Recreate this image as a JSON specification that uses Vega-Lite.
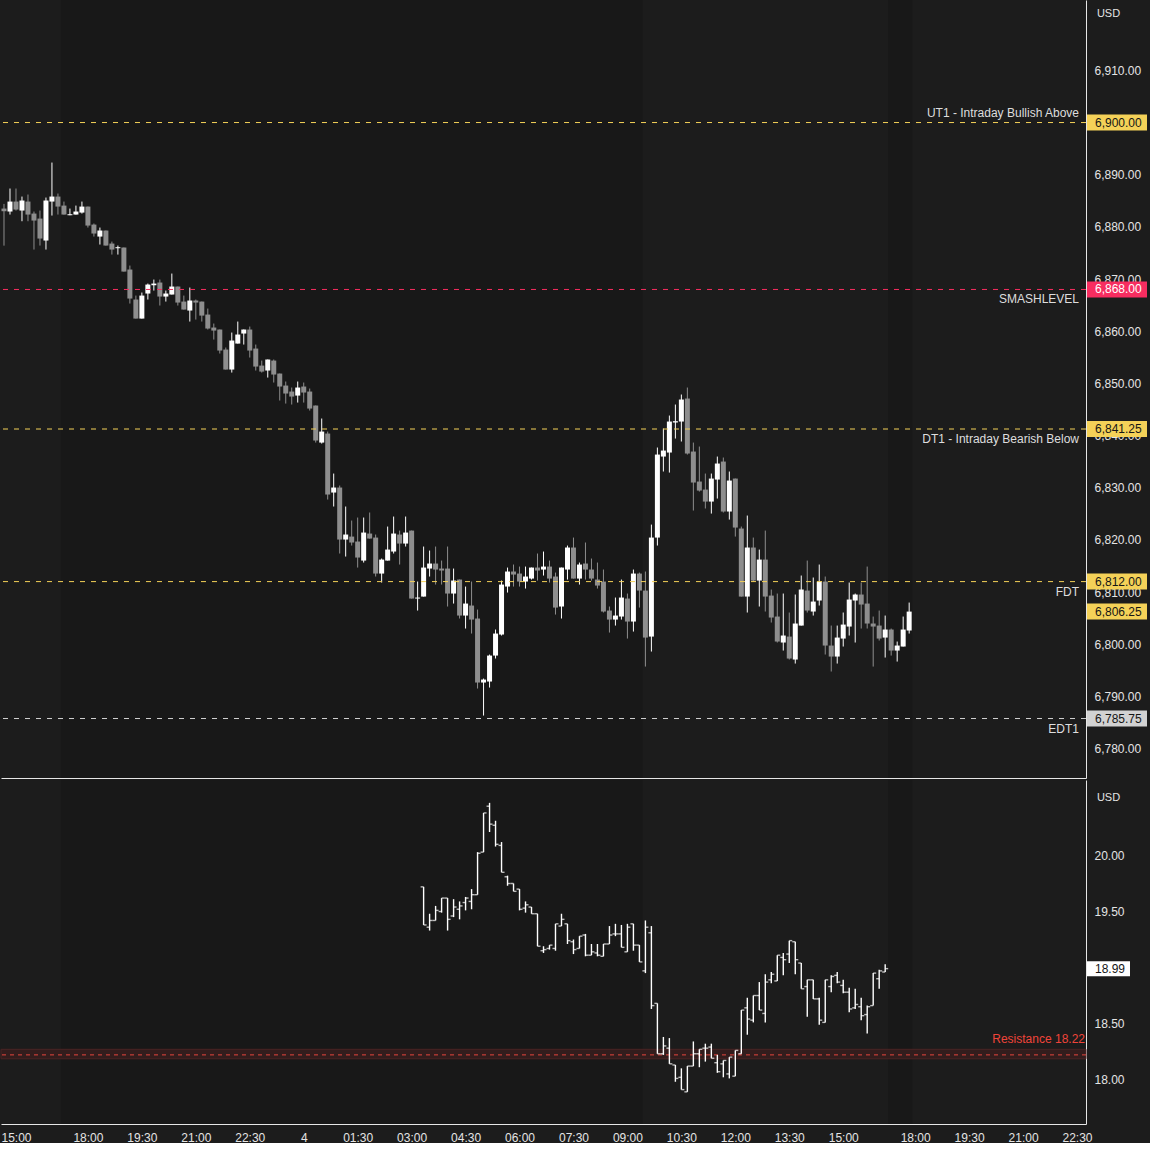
{
  "$schema": "https://vega.github.io/schema/vega-lite/v6.json",
  "background": "#1c1c1c",
  "padding": 0,
  "spacing": 2,
  "config": {
    "view": {"stroke": null},
    "font": "Liberation Sans",
    "axis": {"labelFont": "Liberation Sans", "labelFontSize": 12, "labelColor": "#e4e4e4", "ticks": false, "grid": false, "domainColor": "#e6e6e6", "domainWidth": 1, "titleFont": "Liberation Sans"},
    "text": {"font": "Liberation Sans", "fontSize": 12}
  },
  "datasets": {
    "sess": [
      {"s": "2025-11-03 16:20", "e": "2025-11-04 09:30"},
      {"s": "2025-11-04 16:20", "e": "2025-11-04 18:00"}
    ],
    "levels": [
      {"level": "UT1", "p": 6900, "label": "UT1 - Intraday Bullish Above"},
      {"level": "SMASHLEVEL", "p": 6868, "label": "SMASHLEVEL"},
      {"level": "DT1", "p": 6841.25, "label": "DT1 - Intraday Bearish Below"},
      {"level": "FDT", "p": 6812, "label": "FDT"},
      {"level": "EDT1", "p": 6785.75, "label": "EDT1"}
    ],
    "tags": [
      {"level": "UT1", "p": 6900},
      {"level": "SMASHLEVEL", "p": 6868},
      {"level": "DT1", "p": 6841.25},
      {"level": "FDT", "p": 6812},
      {"level": "Last", "p": 6806.25},
      {"level": "EDT1", "p": 6785.75}
    ],
    "res": [{"v": 18.22, "lo": 18.185, "hi": 18.27, "label": "Resistance 18.22"}],
    "vixlast": [{"v": 18.99}],
    "es": [
      {"t":"2025-11-03 14:40","o":6883.51,"h":6884.4,"l":6876.4,"c":6883.0},
      {"t":"2025-11-03 14:50","o":6882.94,"h":6887.35,"l":6882.36,"c":6884.85},
      {"t":"2025-11-03 15:00","o":6884.85,"h":6887.35,"l":6883.13,"c":6883.32},
      {"t":"2025-11-03 15:10","o":6883.13,"h":6885.81,"l":6881.08,"c":6885.05},
      {"t":"2025-11-03 15:20","o":6884.85,"h":6886.2,"l":6881.08,"c":6882.36},
      {"t":"2025-11-03 15:30","o":6882.55,"h":6882.94,"l":6875.65,"c":6881.21},
      {"t":"2025-11-03 15:40","o":6881.59,"h":6883.13,"l":6876.42,"c":6877.76},
      {"t":"2025-11-03 15:50","o":6877.38,"h":6885.62,"l":6875.65,"c":6885.05},
      {"t":"2025-11-03 16:00","o":6884.85,"h":6892.33,"l":6882.17,"c":6885.81},
      {"t":"2025-11-03 16:10","o":6885.81,"h":6886.39,"l":6882.36,"c":6883.89},
      {"t":"2025-11-03 16:20","o":6884.08,"h":6884.85,"l":6882.36,"c":6882.36},
      {"t":"2025-11-03 16:30","o":6882.23,"h":6883.51,"l":6882.23,"c":6882.42},
      {"t":"2025-11-03 16:40","o":6882.36,"h":6884.08,"l":6882.36,"c":6882.94},
      {"t":"2025-11-03 16:50","o":6882.74,"h":6884.85,"l":6882.55,"c":6883.89},
      {"t":"2025-11-03 18:00","o":6883.89,"h":6883.89,"l":6879.87,"c":6880.25},
      {"t":"2025-11-03 18:10","o":6880.44,"h":6880.64,"l":6878.14,"c":6878.72},
      {"t":"2025-11-03 18:20","o":6878.14,"h":6879.87,"l":6876.61,"c":6879.3},
      {"t":"2025-11-03 18:30","o":6879.3,"h":6879.3,"l":6876.42,"c":6876.42},
      {"t":"2025-11-03 18:40","o":6876.8,"h":6877.18,"l":6874.69,"c":6875.65},
      {"t":"2025-11-03 18:50","o":6875.91,"h":6876.42,"l":6874.69,"c":6876.1},
      {"t":"2025-11-03 19:00","o":6876.04,"h":6876.04,"l":6871.43,"c":6871.43},
      {"t":"2025-11-03 19:10","o":6871.82,"h":6872.58,"l":6865.3,"c":6866.26},
      {"t":"2025-11-03 19:20","o":6866.07,"h":6866.83,"l":6862.42,"c":6862.42},
      {"t":"2025-11-03 19:30","o":6862.42,"h":6867.41,"l":6862.42,"c":6866.83},
      {"t":"2025-11-03 19:40","o":6867.22,"h":6869.13,"l":6866.07,"c":6868.94},
      {"t":"2025-11-03 19:50","o":6868.81,"h":6869.9,"l":6867.79,"c":6869.13},
      {"t":"2025-11-03 20:00","o":6869.33,"h":6869.9,"l":6864.92,"c":6866.64},
      {"t":"2025-11-03 20:10","o":6866.64,"h":6867.79,"l":6865.68,"c":6867.22},
      {"t":"2025-11-03 20:20","o":6867.03,"h":6871.05,"l":6867.03,"c":6868.56},
      {"t":"2025-11-03 20:30","o":6868.56,"h":6868.56,"l":6864.92,"c":6865.49},
      {"t":"2025-11-03 20:40","o":6865.68,"h":6866.83,"l":6864.15,"c":6864.15},
      {"t":"2025-11-03 20:50","o":6863.96,"h":6868.37,"l":6861.85,"c":6865.88},
      {"t":"2025-11-03 21:00","o":6865.88,"h":6866.07,"l":6862.23,"c":6865.49},
      {"t":"2025-11-03 21:10","o":6865.68,"h":6865.68,"l":6861.85,"c":6862.99},
      {"t":"2025-11-03 21:20","o":6863.19,"h":6864.34,"l":6860.32,"c":6860.51},
      {"t":"2025-11-03 21:30","o":6860.7,"h":6861.47,"l":6858.4,"c":6860.12},
      {"t":"2025-11-03 21:40","o":6860.32,"h":6860.32,"l":6855.72,"c":6856.29},
      {"t":"2025-11-03 21:50","o":6856.48,"h":6856.87,"l":6852.65,"c":6852.65},
      {"t":"2025-11-03 22:00","o":6852.65,"h":6859.74,"l":6852.07,"c":6858.21},
      {"t":"2025-11-03 22:10","o":6857.63,"h":6861.85,"l":6857.63,"c":6859.36},
      {"t":"2025-11-03 22:20","o":6859.55,"h":6860.32,"l":6857.44,"c":6860.32},
      {"t":"2025-11-03 22:30","o":6860.32,"h":6860.89,"l":6854.95,"c":6856.29},
      {"t":"2025-11-03 22:40","o":6856.67,"h":6857.44,"l":6852.46,"c":6853.22},
      {"t":"2025-11-03 22:50","o":6853.41,"h":6854.37,"l":6852.07,"c":6852.26},
      {"t":"2025-11-03 23:00","o":6852.46,"h":6854.57,"l":6851.11,"c":6854.57},
      {"t":"2025-11-03 23:10","o":6854.37,"h":6854.57,"l":6850.16,"c":6851.69},
      {"t":"2025-11-03 23:20","o":6851.88,"h":6851.88,"l":6846.71,"c":6849.39},
      {"t":"2025-11-03 23:30","o":6849.58,"h":6850.35,"l":6846.13,"c":6848.05},
      {"t":"2025-11-03 23:40","o":6848.43,"h":6849.2,"l":6845.94,"c":6847.47},
      {"t":"2025-11-03 23:50","o":6847.66,"h":6850.35,"l":6846.32,"c":6849.2},
      {"t":"2025-11-04 00:00","o":6849.39,"h":6850.16,"l":6846.32,"c":6848.24},
      {"t":"2025-11-04 00:10","o":6848.43,"h":6849.01,"l":6844.79,"c":6845.17},
      {"t":"2025-11-04 00:20","o":6845.75,"h":6845.75,"l":6838.65,"c":6839.04},
      {"t":"2025-11-04 00:30","o":6838.65,"h":6843.26,"l":6838.46,"c":6840.76},
      {"t":"2025-11-04 00:40","o":6840.38,"h":6840.76,"l":6827.73,"c":6828.69},
      {"t":"2025-11-04 00:50","o":6829.07,"h":6832.71,"l":6826.39,"c":6830.03},
      {"t":"2025-11-04 01:00","o":6830.03,"h":6830.41,"l":6817.38,"c":6820.06},
      {"t":"2025-11-04 01:10","o":6820.06,"h":6826.39,"l":6816.8,"c":6821.02},
      {"t":"2025-11-04 01:20","o":6820.63,"h":6823.7,"l":6818.91,"c":6819.49},
      {"t":"2025-11-04 01:30","o":6819.68,"h":6824.28,"l":6814.69,"c":6816.61},
      {"t":"2025-11-04 01:40","o":6816.03,"h":6824.28,"l":6815.65,"c":6821.4},
      {"t":"2025-11-04 01:50","o":6821.21,"h":6825.24,"l":6820.25,"c":6820.25},
      {"t":"2025-11-04 02:00","o":6820.44,"h":6821.02,"l":6812.97,"c":6813.54},
      {"t":"2025-11-04 02:10","o":6813.54,"h":6816.42,"l":6811.82,"c":6816.22},
      {"t":"2025-11-04 02:20","o":6816.03,"h":6822.55,"l":6816.03,"c":6818.14},
      {"t":"2025-11-04 02:30","o":6817.76,"h":6824.47,"l":6817.38,"c":6821.21},
      {"t":"2025-11-04 02:40","o":6821.02,"h":6821.78,"l":6815.27,"c":6819.29},
      {"t":"2025-11-04 02:50","o":6819.29,"h":6824.47,"l":6818.72,"c":6821.4},
      {"t":"2025-11-04 03:00","o":6821.78,"h":6821.78,"l":6808.75,"c":6808.75},
      {"t":"2025-11-04 03:10","o":6808.75,"h":6812.01,"l":6806.45,"c":6808.94},
      {"t":"2025-11-04 03:20","o":6809.13,"h":6818.72,"l":6809.13,"c":6814.69},
      {"t":"2025-11-04 03:30","o":6814.5,"h":6817.95,"l":6812.97,"c":6815.46},
      {"t":"2025-11-04 03:40","o":6815.46,"h":6818.72,"l":6811.43,"c":6814.31},
      {"t":"2025-11-04 03:50","o":6814.5,"h":6816.03,"l":6811.43,"c":6814.12},
      {"t":"2025-11-04 04:00","o":6814.5,"h":6818.72,"l":6807.22,"c":6809.71},
      {"t":"2025-11-04 04:10","o":6809.71,"h":6814.5,"l":6807.79,"c":6812.2},
      {"t":"2025-11-04 04:20","o":6812.39,"h":6812.39,"l":6804.92,"c":6805.49},
      {"t":"2025-11-04 04:30","o":6805.49,"h":6811.05,"l":6803.0,"c":6807.79},
      {"t":"2025-11-04 04:40","o":6807.41,"h":6812.01,"l":6802.04,"c":6804.72},
      {"t":"2025-11-04 04:50","o":6804.92,"h":6806.64,"l":6791.5,"c":6792.65},
      {"t":"2025-11-04 05:00","o":6792.65,"h":6793.41,"l":6786.32,"c":6793.22},
      {"t":"2025-11-04 05:10","o":6792.84,"h":6798.01,"l":6791.69,"c":6797.82},
      {"t":"2025-11-04 05:20","o":6797.82,"h":6802.81,"l":6797.25,"c":6802.04},
      {"t":"2025-11-04 05:30","o":6801.85,"h":6812.2,"l":6801.66,"c":6811.43},
      {"t":"2025-11-04 05:40","o":6811.05,"h":6814.69,"l":6809.9,"c":6813.93},
      {"t":"2025-11-04 05:50","o":6813.93,"h":6815.27,"l":6811.05,"c":6813.35},
      {"t":"2025-11-04 06:00","o":6813.54,"h":6814.88,"l":6811.05,"c":6812.01},
      {"t":"2025-11-04 06:10","o":6812.01,"h":6814.88,"l":6810.67,"c":6812.97},
      {"t":"2025-11-04 06:20","o":6812.58,"h":6814.69,"l":6812.39,"c":6814.69},
      {"t":"2025-11-04 06:30","o":6814.69,"h":6817.38,"l":6812.2,"c":6814.12},
      {"t":"2025-11-04 06:40","o":6814.31,"h":6817.76,"l":6813.16,"c":6814.88},
      {"t":"2025-11-04 06:50","o":6814.88,"h":6816.03,"l":6811.82,"c":6812.58},
      {"t":"2025-11-04 07:00","o":6812.97,"h":6813.73,"l":6805.68,"c":6807.02},
      {"t":"2025-11-04 07:10","o":6807.22,"h":6814.69,"l":6804.92,"c":6814.69},
      {"t":"2025-11-04 07:20","o":6814.31,"h":6818.91,"l":6812.39,"c":6818.53},
      {"t":"2025-11-04 07:30","o":6818.53,"h":6820.44,"l":6812.58,"c":6812.58},
      {"t":"2025-11-04 07:40","o":6812.58,"h":6815.65,"l":6811.43,"c":6815.27},
      {"t":"2025-11-04 07:50","o":6815.46,"h":6819.49,"l":6812.39,"c":6814.31},
      {"t":"2025-11-04 08:00","o":6814.31,"h":6816.42,"l":6812.2,"c":6812.58},
      {"t":"2025-11-04 08:10","o":6812.39,"h":6815.65,"l":6810.67,"c":6811.24},
      {"t":"2025-11-04 08:20","o":6812.01,"h":6814.31,"l":6806.07,"c":6806.26},
      {"t":"2025-11-04 08:30","o":6806.45,"h":6807.22,"l":6802.23,"c":6804.72},
      {"t":"2025-11-04 08:40","o":6804.72,"h":6808.94,"l":6803.57,"c":6805.49},
      {"t":"2025-11-04 08:50","o":6805.3,"h":6812.39,"l":6804.72,"c":6808.94},
      {"t":"2025-11-04 09:00","o":6808.75,"h":6809.71,"l":6801.08,"c":6804.34},
      {"t":"2025-11-04 09:10","o":6804.34,"h":6814.31,"l":6802.42,"c":6813.54},
      {"t":"2025-11-04 09:20","o":6813.54,"h":6813.73,"l":6807.02,"c":6810.28},
      {"t":"2025-11-04 09:30","o":6810.28,"h":6813.93,"l":6795.71,"c":6801.27},
      {"t":"2025-11-04 09:40","o":6801.46,"h":6822.93,"l":6798.59,"c":6820.44},
      {"t":"2025-11-04 09:50","o":6820.44,"h":6837.7,"l":6818.91,"c":6836.35},
      {"t":"2025-11-04 10:00","o":6835.97,"h":6841.34,"l":6833.1,"c":6837.12},
      {"t":"2025-11-04 10:10","o":6836.74,"h":6843.83,"l":6832.9,"c":6842.68},
      {"t":"2025-11-04 10:20","o":6842.5,"h":6845.94,"l":6839.42,"c":6842.75},
      {"t":"2025-11-04 10:30","o":6842.68,"h":6847.86,"l":6838.85,"c":6846.9},
      {"t":"2025-11-04 10:40","o":6847.09,"h":6849.2,"l":6836.35,"c":6836.55},
      {"t":"2025-11-04 10:50","o":6836.93,"h":6838.65,"l":6825.62,"c":6830.99},
      {"t":"2025-11-04 11:00","o":6831.18,"h":6837.89,"l":6829.26,"c":6829.45},
      {"t":"2025-11-04 11:10","o":6829.64,"h":6832.71,"l":6826.01,"c":6827.34},
      {"t":"2025-11-04 11:20","o":6827.34,"h":6832.71,"l":6825.04,"c":6831.75},
      {"t":"2025-11-04 11:30","o":6831.56,"h":6835.97,"l":6827.92,"c":6834.63},
      {"t":"2025-11-04 11:40","o":6835.01,"h":6835.78,"l":6825.24,"c":6825.43},
      {"t":"2025-11-04 11:50","o":6825.43,"h":6833.1,"l":6823.89,"c":6831.37},
      {"t":"2025-11-04 12:00","o":6831.75,"h":6831.75,"l":6820.63,"c":6822.36},
      {"t":"2025-11-04 12:10","o":6822.17,"h":6822.55,"l":6809.13,"c":6809.13},
      {"t":"2025-11-04 12:20","o":6809.13,"h":6824.66,"l":6806.07,"c":6818.53},
      {"t":"2025-11-04 12:30","o":6818.53,"h":6820.44,"l":6812.01,"c":6812.2},
      {"t":"2025-11-04 12:40","o":6812.2,"h":6818.14,"l":6807.22,"c":6816.22},
      {"t":"2025-11-04 12:50","o":6816.22,"h":6821.78,"l":6806.26,"c":6809.13},
      {"t":"2025-11-04 13:00","o":6809.32,"h":6810.48,"l":6804.15,"c":6805.11},
      {"t":"2025-11-04 13:10","o":6805.3,"h":6809.71,"l":6800.32,"c":6800.51},
      {"t":"2025-11-04 13:20","o":6800.32,"h":6809.71,"l":6798.78,"c":6801.66},
      {"t":"2025-11-04 13:30","o":6801.46,"h":6806.07,"l":6797.06,"c":6797.25},
      {"t":"2025-11-04 13:40","o":6797.06,"h":6809.52,"l":6796.29,"c":6803.96},
      {"t":"2025-11-04 13:50","o":6803.57,"h":6813.16,"l":6803.57,"c":6810.48},
      {"t":"2025-11-04 14:00","o":6810.28,"h":6816.03,"l":6806.07,"c":6806.45},
      {"t":"2025-11-04 14:10","o":6806.26,"h":6812.78,"l":6805.49,"c":6808.17},
      {"t":"2025-11-04 14:20","o":6808.37,"h":6815.27,"l":6807.41,"c":6812.01},
      {"t":"2025-11-04 14:30","o":6812.01,"h":6812.97,"l":6798.02,"c":6799.74},
      {"t":"2025-11-04 14:40","o":6799.74,"h":6803.57,"l":6794.76,"c":6797.63},
      {"t":"2025-11-04 14:50","o":6797.63,"h":6803.57,"l":6796.29,"c":6801.27},
      {"t":"2025-11-04 15:00","o":6801.08,"h":6806.07,"l":6799.55,"c":6803.76},
      {"t":"2025-11-04 15:10","o":6803.38,"h":6811.82,"l":6801.66,"c":6808.56},
      {"t":"2025-11-04 15:20","o":6808.37,"h":6809.71,"l":6800.32,"c":6809.52},
      {"t":"2025-11-04 15:30","o":6809.52,"h":6811.82,"l":6803.0,"c":6807.6},
      {"t":"2025-11-04 15:40","o":6807.79,"h":6814.88,"l":6803.0,"c":6803.96},
      {"t":"2025-11-04 15:50","o":6803.96,"h":6805.3,"l":6795.71,"c":6803.38},
      {"t":"2025-11-04 16:00","o":6803.57,"h":6806.45,"l":6800.7,"c":6801.08},
      {"t":"2025-11-04 16:10","o":6801.27,"h":6805.49,"l":6797.44,"c":6802.81},
      {"t":"2025-11-04 16:20","o":6802.81,"h":6803.0,"l":6797.82,"c":6798.78},
      {"t":"2025-11-04 16:30","o":6798.78,"h":6800.51,"l":6796.67,"c":6799.74},
      {"t":"2025-11-04 16:40","o":6799.55,"h":6805.3,"l":6799.55,"c":6802.81},
      {"t":"2025-11-04 16:50","o":6802.62,"h":6807.98,"l":6802.04,"c":6806.25}
    ],
    "vix": [
      {"t":"2025-11-04 03:20","o":19.72,"h":19.72,"l":19.38,"c":19.38},
      {"t":"2025-11-04 03:30","o":19.36,"h":19.48,"l":19.33,"c":19.42},
      {"t":"2025-11-04 03:40","o":19.42,"h":19.55,"l":19.42,"c":19.51},
      {"t":"2025-11-04 03:50","o":19.5,"h":19.62,"l":19.49,"c":19.62},
      {"t":"2025-11-04 04:00","o":19.62,"h":19.62,"l":19.33,"c":19.43},
      {"t":"2025-11-04 04:10","o":19.46,"h":19.61,"l":19.45,"c":19.54},
      {"t":"2025-11-04 04:20","o":19.52,"h":19.59,"l":19.43,"c":19.55},
      {"t":"2025-11-04 04:30","o":19.58,"h":19.63,"l":19.51,"c":19.62},
      {"t":"2025-11-04 04:40","o":19.59,"h":19.7,"l":19.52,"c":19.65},
      {"t":"2025-11-04 04:50","o":19.65,"h":20.03,"l":19.65,"c":20.02},
      {"t":"2025-11-04 05:00","o":20.03,"h":20.38,"l":20.03,"c":20.38},
      {"t":"2025-11-04 05:10","o":20.44,"h":20.47,"l":20.21,"c":20.28},
      {"t":"2025-11-04 05:20","o":20.27,"h":20.31,"l":20.08,"c":20.1},
      {"t":"2025-11-04 05:30","o":20.09,"h":20.12,"l":19.85,"c":19.85},
      {"t":"2025-11-04 05:40","o":19.81,"h":19.82,"l":19.73,"c":19.75},
      {"t":"2025-11-04 05:50","o":19.75,"h":19.75,"l":19.68,"c":19.68},
      {"t":"2025-11-04 06:00","o":19.7,"h":19.7,"l":19.51,"c":19.52},
      {"t":"2025-11-04 06:10","o":19.53,"h":19.59,"l":19.49,"c":19.56},
      {"t":"2025-11-04 06:20","o":19.54,"h":19.54,"l":19.48,"c":19.48},
      {"t":"2025-11-04 06:30","o":19.48,"h":19.48,"l":19.19,"c":19.19},
      {"t":"2025-11-04 06:40","o":19.15,"h":19.19,"l":19.13,"c":19.16},
      {"t":"2025-11-04 06:50","o":19.17,"h":19.2,"l":19.16,"c":19.2},
      {"t":"2025-11-04 07:00","o":19.17,"h":19.39,"l":19.15,"c":19.39},
      {"t":"2025-11-04 07:10","o":19.37,"h":19.48,"l":19.37,"c":19.43},
      {"t":"2025-11-04 07:20","o":19.39,"h":19.39,"l":19.21,"c":19.24},
      {"t":"2025-11-04 07:30","o":19.23,"h":19.25,"l":19.12,"c":19.16},
      {"t":"2025-11-04 07:40","o":19.17,"h":19.28,"l":19.17,"c":19.28},
      {"t":"2025-11-04 07:50","o":19.29,"h":19.3,"l":19.1,"c":19.11},
      {"t":"2025-11-04 08:00","o":19.11,"h":19.21,"l":19.11,"c":19.14},
      {"t":"2025-11-04 08:10","o":19.13,"h":19.21,"l":19.1,"c":19.11},
      {"t":"2025-11-04 08:20","o":19.1,"h":19.21,"l":19.1,"c":19.21},
      {"t":"2025-11-04 08:30","o":19.21,"h":19.37,"l":19.21,"c":19.29},
      {"t":"2025-11-04 08:40","o":19.3,"h":19.39,"l":19.28,"c":19.3},
      {"t":"2025-11-04 08:50","o":19.3,"h":19.38,"l":19.18,"c":19.18},
      {"t":"2025-11-04 09:00","o":19.14,"h":19.39,"l":19.14,"c":19.36},
      {"t":"2025-11-04 09:10","o":19.39,"h":19.39,"l":19.15,"c":19.2},
      {"t":"2025-11-04 09:20","o":19.2,"h":19.2,"l":19.05,"c":19.05},
      {"t":"2025-11-04 09:30","o":18.97,"h":19.42,"l":18.95,"c":19.36},
      {"t":"2025-11-04 09:40","o":19.31,"h":19.37,"l":18.63,"c":18.66},
      {"t":"2025-11-04 09:50","o":18.68,"h":18.68,"l":18.23,"c":18.23},
      {"t":"2025-11-04 10:00","o":18.23,"h":18.38,"l":18.22,"c":18.3},
      {"t":"2025-11-04 10:10","o":18.28,"h":18.37,"l":18.14,"c":18.14},
      {"t":"2025-11-04 10:20","o":18.13,"h":18.13,"l":17.98,"c":18.01},
      {"t":"2025-11-04 10:30","o":18.02,"h":18.1,"l":17.91,"c":17.91},
      {"t":"2025-11-04 10:40","o":17.89,"h":18.12,"l":17.89,"c":18.12},
      {"t":"2025-11-04 10:50","o":18.12,"h":18.34,"l":18.12,"c":18.23},
      {"t":"2025-11-04 11:00","o":18.23,"h":18.27,"l":18.11,"c":18.27},
      {"t":"2025-11-04 11:10","o":18.28,"h":18.32,"l":18.16,"c":18.28},
      {"t":"2025-11-04 11:20","o":18.29,"h":18.32,"l":18.19,"c":18.19},
      {"t":"2025-11-04 11:30","o":18.15,"h":18.22,"l":18.06,"c":18.07},
      {"t":"2025-11-04 11:40","o":18.14,"h":18.17,"l":18.02,"c":18.17},
      {"t":"2025-11-04 11:50","o":18.05,"h":18.2,"l":18.01,"c":18.2},
      {"t":"2025-11-04 12:00","o":18.03,"h":18.26,"l":18.03,"c":18.26},
      {"t":"2025-11-04 12:10","o":18.23,"h":18.62,"l":18.23,"c":18.62},
      {"t":"2025-11-04 12:20","o":18.64,"h":18.73,"l":18.4,"c":18.54},
      {"t":"2025-11-04 12:30","o":18.53,"h":18.75,"l":18.51,"c":18.75},
      {"t":"2025-11-04 12:40","o":18.75,"h":18.87,"l":18.62,"c":18.62},
      {"t":"2025-11-04 12:50","o":18.59,"h":18.94,"l":18.51,"c":18.87},
      {"t":"2025-11-04 13:00","o":18.89,"h":18.96,"l":18.86,"c":18.94},
      {"t":"2025-11-04 13:10","o":18.88,"h":19.11,"l":18.88,"c":19.11},
      {"t":"2025-11-04 13:20","o":19.09,"h":19.13,"l":18.93,"c":19.07},
      {"t":"2025-11-04 13:30","o":19.12,"h":19.24,"l":19.04,"c":19.24},
      {"t":"2025-11-04 13:40","o":19.23,"h":19.23,"l":18.94,"c":19.07},
      {"t":"2025-11-04 13:50","o":19.04,"h":19.04,"l":18.81,"c":18.81},
      {"t":"2025-11-04 14:00","o":18.83,"h":18.89,"l":18.56,"c":18.89},
      {"t":"2025-11-04 14:10","o":18.89,"h":18.89,"l":18.72,"c":18.72},
      {"t":"2025-11-04 14:20","o":18.72,"h":18.73,"l":18.49,"c":18.53},
      {"t":"2025-11-04 14:30","o":18.51,"h":18.89,"l":18.51,"c":18.89},
      {"t":"2025-11-04 14:40","o":18.83,"h":18.93,"l":18.78,"c":18.92},
      {"t":"2025-11-04 14:50","o":18.93,"h":18.96,"l":18.86,"c":18.87},
      {"t":"2025-11-04 15:00","o":18.84,"h":18.89,"l":18.77,"c":18.78},
      {"t":"2025-11-04 15:10","o":18.78,"h":18.82,"l":18.6,"c":18.63},
      {"t":"2025-11-04 15:20","o":18.64,"h":18.81,"l":18.63,"c":18.67},
      {"t":"2025-11-04 15:30","o":18.65,"h":18.73,"l":18.53,"c":18.57},
      {"t":"2025-11-04 15:40","o":18.58,"h":18.66,"l":18.41,"c":18.65},
      {"t":"2025-11-04 15:50","o":18.66,"h":18.95,"l":18.66,"c":18.95},
      {"t":"2025-11-04 16:00","o":18.9,"h":18.98,"l":18.81,"c":18.97},
      {"t":"2025-11-04 16:10","o":18.96,"h":19.03,"l":18.96,"c":18.99}
    ]
  },
  "vconcat": [
    {
      "width": 1085,
      "height": 778,
      "layer": [
        {
          "data": {"name": "sess"},
          "mark": {"type": "rect", "color": "#181818", "xOffset": -3, "x2Offset": -3},
          "encoding": {
            "x": {
              "field": "s", "type": "ordinal",
              "scale": {"type": "point", "padding": 0.5, "domain": [
                "2025-11-03 14:40","2025-11-03 14:50","2025-11-03 15:00","2025-11-03 15:10","2025-11-03 15:20","2025-11-03 15:30","2025-11-03 15:40","2025-11-03 15:50","2025-11-03 16:00","2025-11-03 16:10","2025-11-03 16:20","2025-11-03 16:30","2025-11-03 16:40","2025-11-03 16:50",
                "2025-11-03 18:00","2025-11-03 18:10","2025-11-03 18:20","2025-11-03 18:30","2025-11-03 18:40","2025-11-03 18:50",
                "2025-11-03 19:00","2025-11-03 19:10","2025-11-03 19:20","2025-11-03 19:30","2025-11-03 19:40","2025-11-03 19:50",
                "2025-11-03 20:00","2025-11-03 20:10","2025-11-03 20:20","2025-11-03 20:30","2025-11-03 20:40","2025-11-03 20:50",
                "2025-11-03 21:00","2025-11-03 21:10","2025-11-03 21:20","2025-11-03 21:30","2025-11-03 21:40","2025-11-03 21:50",
                "2025-11-03 22:00","2025-11-03 22:10","2025-11-03 22:20","2025-11-03 22:30","2025-11-03 22:40","2025-11-03 22:50",
                "2025-11-03 23:00","2025-11-03 23:10","2025-11-03 23:20","2025-11-03 23:30","2025-11-03 23:40","2025-11-03 23:50",
                "2025-11-04 00:00","2025-11-04 00:10","2025-11-04 00:20","2025-11-04 00:30","2025-11-04 00:40","2025-11-04 00:50",
                "2025-11-04 01:00","2025-11-04 01:10","2025-11-04 01:20","2025-11-04 01:30","2025-11-04 01:40","2025-11-04 01:50",
                "2025-11-04 02:00","2025-11-04 02:10","2025-11-04 02:20","2025-11-04 02:30","2025-11-04 02:40","2025-11-04 02:50",
                "2025-11-04 03:00","2025-11-04 03:10","2025-11-04 03:20","2025-11-04 03:30","2025-11-04 03:40","2025-11-04 03:50",
                "2025-11-04 04:00","2025-11-04 04:10","2025-11-04 04:20","2025-11-04 04:30","2025-11-04 04:40","2025-11-04 04:50",
                "2025-11-04 05:00","2025-11-04 05:10","2025-11-04 05:20","2025-11-04 05:30","2025-11-04 05:40","2025-11-04 05:50",
                "2025-11-04 06:00","2025-11-04 06:10","2025-11-04 06:20","2025-11-04 06:30","2025-11-04 06:40","2025-11-04 06:50",
                "2025-11-04 07:00","2025-11-04 07:10","2025-11-04 07:20","2025-11-04 07:30","2025-11-04 07:40","2025-11-04 07:50",
                "2025-11-04 08:00","2025-11-04 08:10","2025-11-04 08:20","2025-11-04 08:30","2025-11-04 08:40","2025-11-04 08:50",
                "2025-11-04 09:00","2025-11-04 09:10","2025-11-04 09:20","2025-11-04 09:30","2025-11-04 09:40","2025-11-04 09:50",
                "2025-11-04 10:00","2025-11-04 10:10","2025-11-04 10:20","2025-11-04 10:30","2025-11-04 10:40","2025-11-04 10:50",
                "2025-11-04 11:00","2025-11-04 11:10","2025-11-04 11:20","2025-11-04 11:30","2025-11-04 11:40","2025-11-04 11:50",
                "2025-11-04 12:00","2025-11-04 12:10","2025-11-04 12:20","2025-11-04 12:30","2025-11-04 12:40","2025-11-04 12:50",
                "2025-11-04 13:00","2025-11-04 13:10","2025-11-04 13:20","2025-11-04 13:30","2025-11-04 13:40","2025-11-04 13:50",
                "2025-11-04 14:00","2025-11-04 14:10","2025-11-04 14:20","2025-11-04 14:30","2025-11-04 14:40","2025-11-04 14:50",
                "2025-11-04 15:00","2025-11-04 15:10","2025-11-04 15:20","2025-11-04 15:30","2025-11-04 15:40","2025-11-04 15:50",
                "2025-11-04 16:00","2025-11-04 16:10","2025-11-04 16:20","2025-11-04 16:30","2025-11-04 16:40","2025-11-04 16:50",
                "2025-11-04 18:00","2025-11-04 18:10","2025-11-04 18:20","2025-11-04 18:30","2025-11-04 18:40","2025-11-04 18:50",
                "2025-11-04 19:00","2025-11-04 19:10","2025-11-04 19:20","2025-11-04 19:30","2025-11-04 19:40","2025-11-04 19:50",
                "2025-11-04 20:00","2025-11-04 20:10","2025-11-04 20:20","2025-11-04 20:30","2025-11-04 20:40","2025-11-04 20:50",
                "2025-11-04 21:00","2025-11-04 21:10","2025-11-04 21:20","2025-11-04 21:30","2025-11-04 21:40","2025-11-04 21:50",
                "2025-11-04 22:00","2025-11-04 22:10","2025-11-04 22:20","2025-11-04 22:30","2025-11-04 22:40"
              ]},
              "axis": {"orient": "bottom", "labels": false, "ticks": false, "domain": true, "title": null}
            },
            "x2": {"field": "e"}
          }
        },
        {
          "data": {"name": "es"},
          "mark": {"type": "rule", "strokeWidth": 1},
          "encoding": {
            "x": {"field": "t", "type": "ordinal"},
            "y": {
              "field": "l", "type": "quantitative",
              "scale": {"domain": [6774.35, 6923.49], "nice": false, "zero": false},
              "axis": {
                "orient": "right", "values": [6780, 6790, 6800, 6810, 6820, 6830, 6840, 6850, 6860, 6870, 6880, 6890, 6900, 6910],
                "format": ",.2f", "labelAlign": "left", "labelPadding": 8, "labelBaseline": "middle",
                "title": "USD", "titleAngle": 0, "titleX": 22, "titleY": 13, "titleAlign": "center", "titleBaseline": "middle",
                "titleFontSize": 11, "titleFontWeight": "normal", "titleColor": "#e4e4e4"
              }
            },
            "y2": {"field": "h"},
            "color": {"condition": {"test": "datum.c >= datum.o", "value": "#ffffff"}, "value": "#8e8e8e"}
          }
        },
        {
          "data": {"name": "es"},
          "mark": {"type": "rule", "strokeWidth": 5, "strokeCap": "butt"},
          "encoding": {
            "x": {"field": "t", "type": "ordinal"},
            "y": {"field": "o", "type": "quantitative"},
            "y2": {"field": "c"},
            "color": {"condition": {"test": "datum.c >= datum.o", "value": "#ffffff"}, "value": "#8e8e8e"}
          }
        },
        {
          "data": {"name": "levels"},
          "mark": {"type": "rule", "strokeWidth": 1, "strokeDash": [5, 6]},
          "encoding": {
            "y": {"field": "p", "type": "quantitative"},
            "color": {
              "field": "level", "type": "nominal", "legend": null,
              "scale": {"domain": ["UT1", "SMASHLEVEL", "DT1", "FDT", "Last", "EDT1"], "range": ["#f4d158", "#f72d60", "#f4d158", "#f4d158", "#f4d158", "#d2d2d2"]}
            }
          }
        },
        {
          "data": {"name": "levels"},
          "transform": [{"filter": "datum.level == 'UT1'"}],
          "mark": {"type": "text", "align": "right", "baseline": "middle", "dx": -7, "dy": -10, "fontSize": 12, "color": "#dedede"},
          "encoding": {
            "x": {"value": "width"},
            "y": {"field": "p", "type": "quantitative"},
            "text": {"field": "label"}
          }
        },
        {
          "data": {"name": "levels"},
          "transform": [{"filter": "datum.level != 'UT1'"}],
          "mark": {"type": "text", "align": "right", "baseline": "middle", "dx": -7, "dy": 10, "fontSize": 12, "color": "#dedede"},
          "encoding": {
            "x": {"value": "width"},
            "y": {"field": "p", "type": "quantitative"},
            "text": {"field": "label"}
          }
        },
        {
          "data": {"name": "tags"},
          "mark": {"type": "rule", "strokeWidth": 16, "strokeCap": "butt", "xOffset": 1, "x2Offset": 61},
          "encoding": {
            "x": {"value": "width"},
            "x2": {"value": "width"},
            "y": {"field": "p", "type": "quantitative"},
            "color": {"field": "level", "type": "nominal", "legend": null}
          }
        },
        {
          "data": {"name": "tags"},
          "mark": {"type": "text", "align": "left", "baseline": "middle", "dx": 9, "fontSize": 12},
          "encoding": {
            "x": {"value": "width"},
            "y": {"field": "p", "type": "quantitative"},
            "text": {"field": "p", "type": "quantitative", "format": ",.2f"},
            "color": {"condition": {"test": "datum.level == 'SMASHLEVEL'", "value": "#ffffff"}, "value": "#151515"}
          }
        }
      ]
    },
    {
      "width": 1085,
      "height": 344,
      "layer": [
        {
          "data": {"name": "sess"},
          "mark": {"type": "rect", "color": "#181818", "xOffset": -3, "x2Offset": -3},
          "encoding": {
            "x": {
              "field": "s", "type": "ordinal",
              "scale": {"type": "point", "padding": 0.5, "domain": [
                "2025-11-03 14:40","2025-11-03 14:50","2025-11-03 15:00","2025-11-03 15:10","2025-11-03 15:20","2025-11-03 15:30","2025-11-03 15:40","2025-11-03 15:50","2025-11-03 16:00","2025-11-03 16:10","2025-11-03 16:20","2025-11-03 16:30","2025-11-03 16:40","2025-11-03 16:50",
                "2025-11-03 18:00","2025-11-03 18:10","2025-11-03 18:20","2025-11-03 18:30","2025-11-03 18:40","2025-11-03 18:50",
                "2025-11-03 19:00","2025-11-03 19:10","2025-11-03 19:20","2025-11-03 19:30","2025-11-03 19:40","2025-11-03 19:50",
                "2025-11-03 20:00","2025-11-03 20:10","2025-11-03 20:20","2025-11-03 20:30","2025-11-03 20:40","2025-11-03 20:50",
                "2025-11-03 21:00","2025-11-03 21:10","2025-11-03 21:20","2025-11-03 21:30","2025-11-03 21:40","2025-11-03 21:50",
                "2025-11-03 22:00","2025-11-03 22:10","2025-11-03 22:20","2025-11-03 22:30","2025-11-03 22:40","2025-11-03 22:50",
                "2025-11-03 23:00","2025-11-03 23:10","2025-11-03 23:20","2025-11-03 23:30","2025-11-03 23:40","2025-11-03 23:50",
                "2025-11-04 00:00","2025-11-04 00:10","2025-11-04 00:20","2025-11-04 00:30","2025-11-04 00:40","2025-11-04 00:50",
                "2025-11-04 01:00","2025-11-04 01:10","2025-11-04 01:20","2025-11-04 01:30","2025-11-04 01:40","2025-11-04 01:50",
                "2025-11-04 02:00","2025-11-04 02:10","2025-11-04 02:20","2025-11-04 02:30","2025-11-04 02:40","2025-11-04 02:50",
                "2025-11-04 03:00","2025-11-04 03:10","2025-11-04 03:20","2025-11-04 03:30","2025-11-04 03:40","2025-11-04 03:50",
                "2025-11-04 04:00","2025-11-04 04:10","2025-11-04 04:20","2025-11-04 04:30","2025-11-04 04:40","2025-11-04 04:50",
                "2025-11-04 05:00","2025-11-04 05:10","2025-11-04 05:20","2025-11-04 05:30","2025-11-04 05:40","2025-11-04 05:50",
                "2025-11-04 06:00","2025-11-04 06:10","2025-11-04 06:20","2025-11-04 06:30","2025-11-04 06:40","2025-11-04 06:50",
                "2025-11-04 07:00","2025-11-04 07:10","2025-11-04 07:20","2025-11-04 07:30","2025-11-04 07:40","2025-11-04 07:50",
                "2025-11-04 08:00","2025-11-04 08:10","2025-11-04 08:20","2025-11-04 08:30","2025-11-04 08:40","2025-11-04 08:50",
                "2025-11-04 09:00","2025-11-04 09:10","2025-11-04 09:20","2025-11-04 09:30","2025-11-04 09:40","2025-11-04 09:50",
                "2025-11-04 10:00","2025-11-04 10:10","2025-11-04 10:20","2025-11-04 10:30","2025-11-04 10:40","2025-11-04 10:50",
                "2025-11-04 11:00","2025-11-04 11:10","2025-11-04 11:20","2025-11-04 11:30","2025-11-04 11:40","2025-11-04 11:50",
                "2025-11-04 12:00","2025-11-04 12:10","2025-11-04 12:20","2025-11-04 12:30","2025-11-04 12:40","2025-11-04 12:50",
                "2025-11-04 13:00","2025-11-04 13:10","2025-11-04 13:20","2025-11-04 13:30","2025-11-04 13:40","2025-11-04 13:50",
                "2025-11-04 14:00","2025-11-04 14:10","2025-11-04 14:20","2025-11-04 14:30","2025-11-04 14:40","2025-11-04 14:50",
                "2025-11-04 15:00","2025-11-04 15:10","2025-11-04 15:20","2025-11-04 15:30","2025-11-04 15:40","2025-11-04 15:50",
                "2025-11-04 16:00","2025-11-04 16:10","2025-11-04 16:20","2025-11-04 16:30","2025-11-04 16:40","2025-11-04 16:50",
                "2025-11-04 18:00","2025-11-04 18:10","2025-11-04 18:20","2025-11-04 18:30","2025-11-04 18:40","2025-11-04 18:50",
                "2025-11-04 19:00","2025-11-04 19:10","2025-11-04 19:20","2025-11-04 19:30","2025-11-04 19:40","2025-11-04 19:50",
                "2025-11-04 20:00","2025-11-04 20:10","2025-11-04 20:20","2025-11-04 20:30","2025-11-04 20:40","2025-11-04 20:50",
                "2025-11-04 21:00","2025-11-04 21:10","2025-11-04 21:20","2025-11-04 21:30","2025-11-04 21:40","2025-11-04 21:50",
                "2025-11-04 22:00","2025-11-04 22:10","2025-11-04 22:20","2025-11-04 22:30","2025-11-04 22:40"
              ]},
              "axis": {
                "orient": "bottom", "title": null, "ticks": false, "domain": true,
                "labelOverlap": false, "labelPadding": 8, "labelFontSize": 12, "labelAngle": 0,
                "values": ["2025-11-03 15:00","2025-11-03 18:00","2025-11-03 19:30","2025-11-03 21:00","2025-11-03 22:30","2025-11-04 00:00","2025-11-04 01:30","2025-11-04 03:00","2025-11-04 04:30","2025-11-04 06:00","2025-11-04 07:30","2025-11-04 09:00","2025-11-04 10:30","2025-11-04 12:00","2025-11-04 13:30","2025-11-04 15:00","2025-11-04 18:00","2025-11-04 19:30","2025-11-04 21:00","2025-11-04 22:30"],
                "labelExpr": "slice(datum.label, 11) == '00:00' ? '' + toNumber(slice(datum.label, 8, 10)) : slice(datum.label, 11)"
              }
            },
            "x2": {"field": "e"}
          }
        },
        {
          "data": {"name": "res"},
          "mark": {"type": "rect", "color": "#331d1d", "stroke": "#4a2424", "strokeWidth": 1},
          "encoding": {
            "y": {
              "field": "lo", "type": "quantitative",
              "scale": {"domain": [17.603, 20.674], "nice": false, "zero": false},
              "axis": {
                "orient": "right", "values": [18, 18.5, 19, 19.5, 20], "format": ".2f",
                "labelAlign": "left", "labelPadding": 8, "labelBaseline": "middle",
                "title": "USD", "titleAngle": 0, "titleX": 22, "titleY": 17, "titleAlign": "center", "titleBaseline": "middle",
                "titleFontSize": 11, "titleFontWeight": "normal", "titleColor": "#e4e4e4"
              }
            },
            "y2": {"field": "hi"}
          }
        },
        {
          "data": {"name": "res"},
          "mark": {"type": "rule", "color": "#e5463d", "strokeWidth": 1, "strokeDash": [4, 4]},
          "encoding": {"y": {"field": "v", "type": "quantitative"}}
        },
        {
          "data": {"name": "res"},
          "mark": {"type": "text", "align": "right", "baseline": "middle", "dy": -16, "dx": -1, "fontSize": 12, "color": "#f0443a"},
          "encoding": {
            "x": {"value": "width"},
            "y": {"field": "v", "type": "quantitative"},
            "text": {"field": "label"}
          }
        },
        {
          "data": {"name": "vix"},
          "mark": {"type": "rule", "color": "#ffffff", "strokeWidth": 1.4},
          "encoding": {
            "x": {"field": "t", "type": "ordinal"},
            "y": {"field": "l", "type": "quantitative"},
            "y2": {"field": "h"}
          }
        },
        {
          "data": {"name": "vix"},
          "mark": {"type": "tick", "orient": "horizontal", "color": "#ffffff", "size": 3, "thickness": 1.4, "xOffset": -1.5},
          "encoding": {
            "x": {"field": "t", "type": "ordinal"},
            "y": {"field": "o", "type": "quantitative"}
          }
        },
        {
          "data": {"name": "vix"},
          "mark": {"type": "tick", "orient": "horizontal", "color": "#ffffff", "size": 3, "thickness": 1.4, "xOffset": 1.5},
          "encoding": {
            "x": {"field": "t", "type": "ordinal"},
            "y": {"field": "c", "type": "quantitative"}
          }
        },
        {
          "data": {"name": "vixlast"},
          "mark": {"type": "rule", "color": "#ffffff", "strokeWidth": 15, "strokeCap": "butt", "xOffset": 1, "x2Offset": 44},
          "encoding": {
            "x": {"value": "width"},
            "x2": {"value": "width"},
            "y": {"field": "v", "type": "quantitative"}
          }
        },
        {
          "data": {"name": "vixlast"},
          "mark": {"type": "text", "align": "left", "baseline": "middle", "dx": 9, "fontSize": 12, "color": "#151515"},
          "encoding": {
            "x": {"value": "width"},
            "y": {"field": "v", "type": "quantitative"},
            "text": {"field": "v", "type": "quantitative", "format": ".2f"}
          }
        }
      ]
    }
  ]
}
